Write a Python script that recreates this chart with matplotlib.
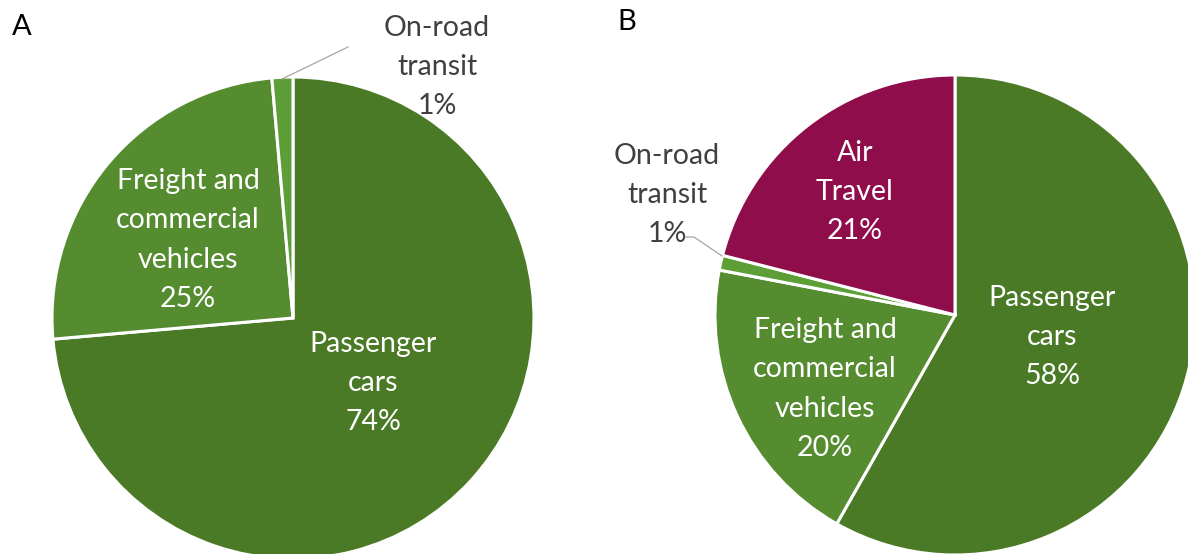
import matplotlib
matplotlib.use("Agg")
import matplotlib.pyplot as plt

# Shares of transport emissions by mode (percent)
modes_a = ["Passenger\ncars", "Freight and\ncommercial\nvehicles", "On-road\ntransit"]
shares_a = [73.6, 25.0, 1.4]
colors_a = ["#4b7a26", "#558c30", "#5e9e36"]

modes_b = ["Passenger\ncars", "Freight and\ncommercial\nvehicles", "On-road\ntransit", "Air\nTravel"]
shares_b = [58.2, 19.8, 1.0, 21.0]
colors_b = ["#4b7a26", "#558c30", "#5e9e36", "#8f0d4a"]

W, H = 1188, 554
plt.rcParams["font.family"] = ["Lato", "DejaVu Sans"]

fig = plt.figure(figsize=(W / 100, H / 100), dpi=100)
ax = fig.add_axes([0, 0, 1, 1])


def py(y):
    return H - y


wp = dict(edgecolor="white", linewidth=2.2)
ax.pie(shares_a, colors=colors_a, center=(293, py(318)), radius=241,
       startangle=90, counterclock=False, wedgeprops=wp)
ax.pie(shares_b, colors=colors_b, center=(955, py(315)), radius=240,
       startangle=90, counterclock=False, wedgeprops=wp)

ax.set_xlim(0, W)
ax.set_ylim(0, H)
ax.set_aspect("equal")
ax.axis("off")

fs = 20.5
ls = 1.62


def label(x, y, name, val, color):
    ax.text(x, py(y), f"{name}\n{round(val)}%", ha="center", va="center",
            fontsize=fs, color=color, linespacing=ls)


# Chart A
label(373, 383, modes_a[0], shares_a[0], "white")
label(188, 240, modes_a[1], shares_a[1], "white")
label(437, 67, modes_a[2], shares_a[2], "#404040")
ax.plot([282, 348], [py(79), py(47)], color="#a6a6a6", lw=0.9)

# Chart B
label(1052, 337, modes_b[0], shares_b[0], "white")
label(825, 389, modes_b[1], shares_b[1], "white")
label(667, 195, modes_b[2], shares_b[2], "#404040")
label(855, 192, modes_b[3], shares_b[3], "white")
ax.plot([686, 694, 722], [py(237), py(237), py(256)], color="#a6a6a6", lw=0.9)

# Panel letters
ax.text(12, py(27), "A", fontsize=21, color="black", ha="left", va="center")
ax.text(617, py(22), "B", fontsize=21, color="black", ha="left", va="center")

fig.savefig("out.png", dpi=100)
